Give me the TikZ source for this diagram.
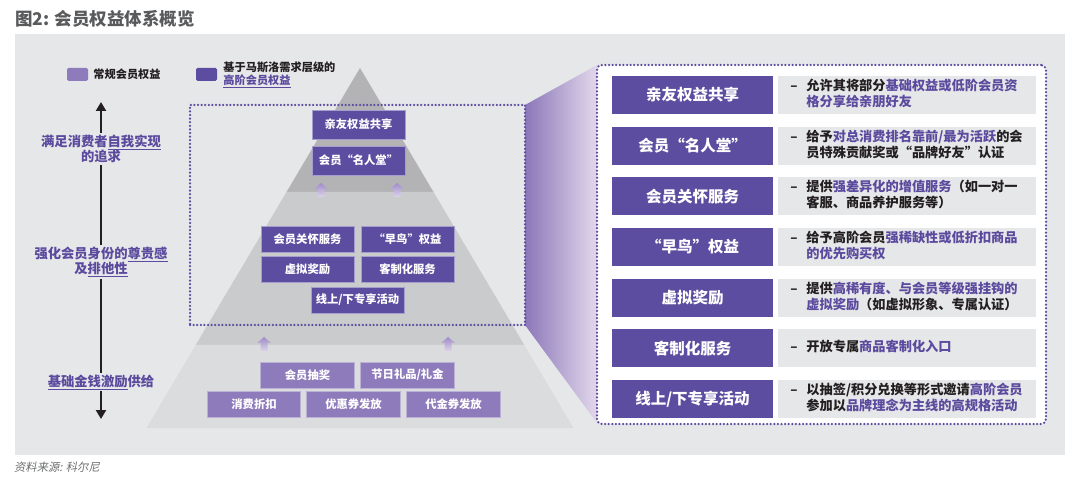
\documentclass[tikz,border=0pt]{standalone}
\usepackage{fontspec}
\setmainfont{Noto Sans CJK SC}
\newfontfamily\slantcjk{Noto Sans CJK SC}[FakeSlant=0.2]
\usetikzlibrary{positioning,arrows.meta}

\definecolor{panelbg}{HTML}{E6E7E9}
\definecolor{pyrtop}{HTML}{B3B3B5}
\definecolor{pyrmid}{HTML}{CACBCD}
\definecolor{pyrbot}{HTML}{DBDCDE}
\definecolor{hidark}{HTML}{5C4DA0}
\definecolor{hilight}{HTML}{8E7BBB}
\definecolor{txtpur}{HTML}{5B4A9E}
\definecolor{txtdark}{HTML}{231F20}
\definecolor{titlegray}{HTML}{595A5C}
\definecolor{footgray}{HTML}{6D6E70}
\definecolor{fanleft}{HTML}{8B77B9}
\definecolor{fanright}{HTML}{E2D8EC}
\definecolor{arrowtop}{HTML}{A08CC9}
\definecolor{arrowbot}{HTML}{DCD3EA}

\newcommand\hl[1]{\textcolor{txtpur}{#1}}
\newcommand\dsc[2]{\begin{tabular}{@{}p{16pt}@{}l@{}}–&#1\\&#2\end{tabular}}
\newcommand\dscone[1]{\begin{tabular}{@{}p{16pt}@{}l@{}}–&#1\end{tabular}}

\tikzset{
	pyrbox/.style={draw=hidark!55!white, line width=0.7pt, fill=hidark, text=white, font=\bfseries\fontsize{11.3}{13}\selectfont, minimum width=93pt, minimum height=26pt, inner sep=0pt},
	basebox/.style={pyrbox, draw=hilight!60!white, fill=hilight, minimum width=93.5pt},
	rowbox/.style={fill=hidark, text=white, font=\bfseries\fontsize{15.5}{17}\selectfont, minimum width=161pt, minimum height=38pt, inner sep=0pt},
	descbox/.style={fill=panelbg, text=txtdark, font=\bfseries\fontsize{13.2}{15}\selectfont, minimum width=258pt, minimum height=38pt, text width=234pt, inner xsep=12pt, inner ysep=0pt, align=left},
	dotframe/.style={draw=txtpur, line width=2.5pt, line cap=round, dash pattern=on 0pt off 3.6pt, inner sep=0pt},
	axislabel/.style={fill=panelbg, text=txtpur, font=\bfseries\fontsize{13.3}{15}\selectfont, align=center, inner xsep=1pt, inner ysep=2pt},
	axisline/.style={line width=2.3pt, draw=txtdark, arrows={Triangle[width=10pt,length=9pt]-Triangle[width=10pt,length=9pt]}},
	legendkey/.style={minimum width=21pt, minimum height=13pt, inner sep=0pt, rounded corners=1.5pt},
	legendtext/.style={text=txtdark, font=\bfseries\fontsize{11.2}{13}\selectfont, align=left, inner sep=0pt},
	uparrow/.pic={\shade[top color=arrowtop, bottom color=arrowbot] (-7,0) -- (0,-6) -- (7,0) -- (3.5,0) -- (3.5,8) -- (-3.5,8) -- (-3.5,0) -- cycle;}
}

\begin{document}
\begin{tikzpicture}[x=1pt, y=-1pt]
		\useasboundingbox (0,0) rectangle (1080,481);
		
		% title, panel and source
		\node[anchor=west, text=titlegray, font=\bfseries\fontsize{17.5}{20}\selectfont, inner sep=0pt] (title) at (15,19) {图2: 会员权益体系概览};
		\fill[panelbg] (15,34) rectangle (1065,455);
		\node[anchor=west, text=footgray, font=\slantcjk\fontsize{11.3}{13}\selectfont, inner sep=0pt] (source) at (14,467) {资料来源: 科尔尼};
		
		% legend
		\node[legendkey, fill=hilight] (keybase) at (77.5,74.5) {};
		\node[legendtext, right=5pt of keybase] (txtbase) {常规会员权益};
		\node[legendkey, fill=hidark] (keyhigh) at (206.5,74.5) {};
		\node[legendtext, right=6pt of keyhigh] (txthigh) {基于马斯洛需求层级的\\\textcolor{txtpur}{\underline{高阶会员权益}}};
		
		% axis
		\coordinate (axtop) at (101,102);
		\coordinate (axbot) at (101,419);
		\draw[axisline] (axbot) -- (axtop);
		\node[axislabel] (lblself) at (101,149) {满足消费者\underline{自我实现}\\的追求};
		\node[axislabel] (lblhonor) at (101,262) {强化会员身份的\underline{尊贵感}\\及\underline{排他性}};
		\node[axislabel] (lblbase) at (101,382) {\underline{基础金钱激励}供给};
		
		% pyramid
		\fill[pyrtop] (360,68) -- (433.5,192) -- (286.5,192) -- cycle;
		\fill[pyrmid] (286.5,192) -- (433.5,192) -- (524.3,345) -- (195.7,345) -- cycle;
		\fill[pyrbot] (195.7,345) -- (524.3,345) -- (573.5,428) -- (146.5,428) -- cycle;
		
		\pic at (321,189) {uparrow};
		\pic at (397,189) {uparrow};
		\pic at (264,343) {uparrow};
		\pic at (448,343) {uparrow};
		
		% fan to the detail panel
		\shade[left color=fanleft, right color=fanright] (525,105) -- (597,65) -- (597,423) -- (525,325) -- cycle;
		
		\node[dotframe, minimum width=335pt, minimum height=220pt] (hlframe) at (357.5,215) {};
		\node[dotframe, fill=white, rounded corners=5pt, minimum width=449pt, minimum height=359pt] (detail) at (821.5,244.5) {};
		
		\node[pyrbox, minimum height=29pt] (share) at (358.5,124.5) {亲友权益共享};
		\node[pyrbox, minimum height=29pt] (fame) at (358.5,160.5) {会员“名人堂”};
		\node[pyrbox] (care) at (307.5,239) {会员关怀服务};
		\node[pyrbox] (early) at (407.5,239) {“早鸟”权益};
		\node[pyrbox] (virtual) at (307.5,269.5) {虚拟奖励};
		\node[pyrbox] (custom) at (407.5,269.5) {客制化服务};
		\node[pyrbox] (event) at (357.5,300) {线上/下专享活动};
		
		\node[basebox] (lottery) at (307.5,375) {会员抽奖};
		\node[basebox] (gift) at (407.5,375) {节日礼品/礼金};
		\node[basebox] (discount) at (254,404) {消费折扣};
		\node[basebox] (coupon) at (353.5,404) {优惠券发放};
		\node[basebox] (voucher) at (453.5,404) {代金券发放};
		
		% detail rows
		\node[rowbox] (rshare) at (692.5,95) {亲友权益共享};
		\node[descbox, right=5pt of rshare] (dshare) {\dsc{允许其将部分\hl{基础权益或低阶会员资}}{\hl{格分享给亲朋好友}}};
		\node[rowbox, below=12.25pt of rshare] (rfame) {会员“名人堂”};
		\node[descbox, right=5pt of rfame] (dfame) {\dsc{给予\hl{对总消费排名靠前/最为活跃}的会}{员特殊贡献奖或“品牌好友”认证}};
		\node[rowbox, below=12.25pt of rfame] (rcare) {会员关怀服务};
		\node[descbox, right=5pt of rcare] (dcare) {\dsc{提供\hl{强差异化的增值服务}（如一对一}{客服、商品养护服务等）}};
		\node[rowbox, below=12.25pt of rcare] (rearly) {“早鸟”权益};
		\node[descbox, right=5pt of rearly] (dearly) {\dsc{给予高阶会员\hl{强稀缺性或低折扣商品}}{\hl{的优先购买权}}};
		\node[rowbox, below=12.25pt of rearly] (rvirtual) {虚拟奖励};
		\node[descbox, right=5pt of rvirtual] (dvirtual) {\dsc{提供\hl{高稀有度、与会员等级强挂钩的}}{\hl{虚拟奖励}（如虚拟形象、专属认证）}};
		\node[rowbox, below=12.25pt of rvirtual] (rcustom) {客制化服务};
		\node[descbox, right=5pt of rcustom] (dcustom) {\dscone{开放专属\hl{商品客制化入口}}};
		\node[rowbox, below=12.25pt of rcustom] (revent) {线上/下专享活动};
		\node[descbox, right=5pt of revent] (devent) {\dsc{以抽签/积分兑换等形式邀请\hl{高阶会员}}{参加以\hl{品牌理念为主线的高规格活动}}};
		
\end{tikzpicture}
\end{document}
